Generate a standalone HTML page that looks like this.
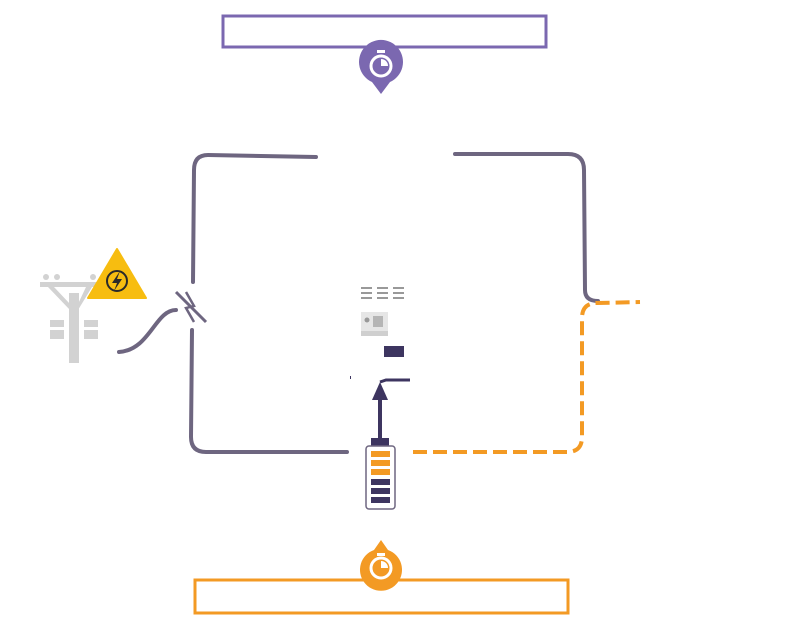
<!DOCTYPE html>
<html><head><style>body{margin:0;background:#fff;}svg{display:block}</style></head>
<body>
<svg width="800" height="634" viewBox="0 0 800 634" xmlns="http://www.w3.org/2000/svg">
<rect x="223" y="16" width="323" height="31" fill="#fff" stroke="#7b68b0" stroke-width="3"/>
<path d="M381 94 L372 82 A22 22 0 1 1 390 82 Z" fill="#7b68b0"/>
<circle cx="381" cy="66" r="10" fill="none" stroke="#fff" stroke-width="3"/>
<path d="M381 66 L381 59 A7 7 0 0 1 388 66 Z" fill="#fff"/>
<rect x="377" y="50" width="8" height="3" fill="#fff"/>
<rect x="195" y="580" width="373" height="33" fill="#fff" stroke="#f39a24" stroke-width="3"/>
<path d="M381 540 L374 550 A21 21 0 1 0 388 550 Z" fill="#f39a24"/>
<circle cx="381" cy="568" r="10" fill="none" stroke="#fff" stroke-width="3"/>
<path d="M381 568 L381 561 A7 7 0 0 1 388 568 Z" fill="#fff"/>
<rect x="377" y="553" width="8" height="3" fill="#fff"/>
<g fill="none" stroke="#6e6680" stroke-width="4" stroke-linecap="round">
<path d="M316 157 L208 155 Q194 155 194 170 L193 282"/>
<path d="M192 330 L191 437 Q191 452 206 452 L347 452"/>
<path d="M455 154 L568 154 Q584 154 584 170 L585 290 Q585 301 598 301"/>
<path d="M119 352 C150 350 155 310 176 310"/>
</g>
<g stroke="#6e6680" stroke-width="3"><line x1="176" y1="292" x2="206" y2="322"/></g>
<path d="M186 292 L194 306 L186 308 L194 322" fill="none" stroke="#6e6680" stroke-width="2.5"/>
<g fill="none" stroke="#f39a24" stroke-width="4" stroke-dasharray="14,6">
<path d="M413 452 L567 452 Q582 452 582 437 L582 318 Q582 303 597 303 L640 302"/>
</g>
<g fill="#d2d2d2">
<rect x="40" y="282" width="58" height="5"/>
<rect x="69" y="293" width="10" height="70"/>
<rect x="50" y="320" width="14" height="7"/><rect x="50" y="330" width="14" height="9"/>
<rect x="84" y="320" width="14" height="7"/><rect x="84" y="330" width="14" height="9"/>
<circle cx="46" cy="277" r="3"/><circle cx="57" cy="277" r="3"/><circle cx="93" cy="277" r="3"/>
<path d="M48 287 L70 310 L70 304 L54 287Z M92 287 L78 310 L78 304 L86 287Z"/>
</g>
<path d="M117 249 L146 298 L88 298 Z" fill="#f7bd10" stroke="#f7bd10" stroke-width="2" stroke-linejoin="round"/>
<circle cx="117" cy="281" r="10" fill="none" stroke="#2a2a2a" stroke-width="2"/>
<path d="M120 271 L112 283 L117 283 L114 291 L122 279 L117 279 Z" fill="#2a2a2a"/>
<g fill="#999">
<rect x="361" y="287" width="11" height="2"/><rect x="361" y="292" width="11" height="2"/><rect x="361" y="297" width="11" height="2"/>
<rect x="377" y="287" width="11" height="2"/><rect x="377" y="292" width="11" height="2"/><rect x="377" y="297" width="11" height="2"/>
<rect x="393" y="287" width="11" height="2"/><rect x="393" y="292" width="11" height="2"/><rect x="393" y="297" width="11" height="2"/>
</g>
<rect x="361" y="312" width="27" height="24" fill="#e6e6e6"/>
<rect x="361" y="331" width="27" height="5" fill="#cfcfcf"/>
<rect x="373" y="316" width="10" height="11" fill="#b5b5b5"/>
<circle cx="367" cy="320" r="2.5" fill="#999"/>
<rect x="384" y="346" width="20" height="11" fill="#3d3560"/>
<rect x="350" y="376" width="1" height="3" fill="#3d3560"/>
<path d="M380 440 L380 398" stroke="#3d3560" stroke-width="4"/>
<path d="M372 400 L380 382 L388 400 Z" fill="#3d3560"/>
<path d="M380 382 L386 380 L410 380" stroke="#3d3560" stroke-width="3" fill="none"/>
<rect x="371" y="438" width="18" height="8" fill="#3d3560"/>
<rect x="366" y="446" width="29" height="63" rx="3" fill="#fff" stroke="#6e6680" stroke-width="1.5"/>
<g fill="#f39a24"><rect x="371" y="451" width="19" height="6"/><rect x="371" y="460" width="19" height="6"/><rect x="371" y="469" width="19" height="6"/></g>
<g fill="#3d3560"><rect x="371" y="479" width="19" height="6"/><rect x="371" y="488" width="19" height="6"/><rect x="371" y="497" width="19" height="6"/></g>
</svg>
</body></html>
